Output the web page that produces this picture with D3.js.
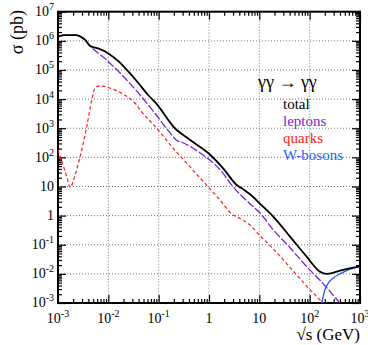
<!DOCTYPE html>
<html>
<head>
<meta charset="utf-8">
<script src="https://cdnjs.cloudflare.com/ajax/libs/d3/7.8.5/d3.min.js"></script>
<style>
body { margin: 0; background: #fff; }
svg text { font-family: "Liberation Serif", "Times New Roman", Times, "DejaVu Serif", serif; }
</style>
</head>
<body>
<div id="chart"></div>
<script>
// sqrt(s) in GeV, sigma in pb
let totalE = [0.001, 0.00138, 0.00219, 0.00347, 0.00437, 0.00631, 0.01, 0.0158, 0.0251, 0.0398, 0.0617, 0.0891,
  0.209, 0.417, 0.977, 1.91, 3.55, 5.01, 7.08, 10.2, 19.1, 40.7, 87.1, 162, 219, 282, 398, 933, 1000];
let totalSigma = [1.4e6, 1.58e6, 1.58e6, 1.07e6, 6.6e5, 5.5e5, 3.7e5, 2.0e5, 8.7e4, 3.5e4, 1.38e4, 7.1e3,
  1000, 400, 138, 42, 11.2, 7.6, 4.8, 2.6, 0.91, 0.19, 0.039, 0.0117, 0.0100, 0.0107, 0.0129, 0.0178, 0.0182];

let leptonE = [0.001, 0.00138, 0.00219, 0.00347, 0.00437, 0.0085, 0.0186, 0.0398, 0.0851, 0.195, 0.229, 0.288,
  0.617, 1.91, 2.63, 3.55, 6.46, 10.2, 19.1, 40.7, 87.1, 200, 398, 631];
let leptonSigma = [1.4e6, 1.58e6, 1.58e6, 1.07e6, 6.6e5, 2.5e5, 6.8e4, 1.6e4, 3.2e3, 510, 380, 330,
  155, 28, 13, 7.1, 2.6, 1.25, 0.32, 0.079, 0.0178, 0.004, 0.001, 0.0004];

let quarkE = [0.001, 0.00129, 0.00151, 0.00174, 0.00219, 0.00275, 0.00372, 0.00468, 0.0055, 0.0063, 0.0085, 0.01,
  0.0186, 0.0339, 0.0457, 0.0912, 0.195, 0.417, 0.891, 1.55, 3.02, 3.55, 6.46, 10.2, 19.1, 40.7, 87.1, 174, 200];
let quarkSigma = [180, 48, 20, 9.3, 25, 105, 1120, 9300, 2.5e4, 2.8e4, 2.75e4, 2.5e4,
  1.58e4, 7.2e3, 3.7e3, 1000, 204, 48, 11.2, 3.9, 1.05, 0.91, 0.48, 0.21, 0.071, 0.0166, 0.0038, 0.0011, 0.00085];

let wE = [174, 200, 234, 295, 398, 603, 933, 1000];
let wSigma = [0.001, 0.0028, 0.0048, 0.0072, 0.0100, 0.0141, 0.0174, 0.0178];

let xTickExp = [-3, -2, -1, 0, 1, 2, 3];
let yTickExp = [7, 6, 5, 4, 3, 2, 1, 0, -1, -2, -3];

let legendTitle = "\u03b3\u03b3 \u2192 \u03b3\u03b3";
let legendNames = ["total", "leptons", "quarks", "W-bosons"];
let legendColors = ["#000000", "#7b22d8", "#ff1a1a", "#1f5cff"];

let width = 368, height = 345;
let margin = {top: 11.7, left: 58, right: 8, bottom: 42};
let innerW = width - margin.left - margin.right;
let innerH = height - margin.top - margin.bottom;
let serif = "'Liberation Serif', 'Times New Roman', Times, 'DejaVu Serif', serif";

let xScale = d3.scaleLog().domain([1e-3, 1e3]).range([0, innerW]);
let yScale = d3.scaleLog().domain([1e-3, 1e7]).range([innerH, 0]);

let svg = d3.select("#chart").append("svg")
  .attr("width", width)
  .attr("height", height)
  .attr("font-family", serif);

svg.append("defs").append("clipPath").attr("id", "clip")
  .append("rect").attr("width", innerW).attr("height", innerH);

let g = svg.append("g").attr("transform", "translate(" + margin.left + "," + margin.top + ")");

// grid lines, dotted, at every decade
g.append("g").selectAll("line").data(xTickExp.slice(1, -1)).join("line")
  .attr("x1", d => xScale(Math.pow(10, d))).attr("x2", d => xScale(Math.pow(10, d)))
  .attr("y1", 0).attr("y2", innerH)
  .attr("stroke", "#777").attr("stroke-width", 1).attr("stroke-dasharray", "1,2");
g.append("g").selectAll("line").data(yTickExp.slice(1, -1)).join("line")
  .attr("y1", d => yScale(Math.pow(10, d))).attr("y2", d => yScale(Math.pow(10, d)))
  .attr("x1", 0).attr("x2", innerW)
  .attr("stroke", "#777").attr("stroke-width", 1).attr("stroke-dasharray", "1,2");

// minor tick values, 2..9 in every decade
let minorX = [], minorY = [];
xTickExp.slice(0, -1).forEach(e => { for (let k = 2; k < 10; k++) minorX.push(k * Math.pow(10, e)); });
yTickExp.slice(1).forEach(e => { for (let k = 2; k < 10; k++) minorY.push(k * Math.pow(10, e)); });
let majorX = xTickExp.map(e => Math.pow(10, e));
let majorY = yTickExp.map(e => Math.pow(10, e));

let tickAxis = function(gen, scale, vals, size, transform) {
  let a = g.append("g").attr("transform", transform)
    .call(gen(scale).tickValues(vals).tickSize(size).tickFormat(""));
  a.select(".domain").remove();
  a.selectAll("line").attr("stroke", "#000").attr("stroke-width", 1.2);
};
tickAxis(d3.axisBottom, xScale, majorX, -8, "translate(0," + innerH + ")");
tickAxis(d3.axisBottom, xScale, minorX, -4, "translate(0," + innerH + ")");
tickAxis(d3.axisTop, xScale, majorX, -8, "translate(0,0)");
tickAxis(d3.axisTop, xScale, minorX, -4, "translate(0,0)");
tickAxis(d3.axisLeft, yScale, majorY, -8, "translate(0,0)");
tickAxis(d3.axisLeft, yScale, minorY, -4, "translate(0,0)");
tickAxis(d3.axisRight, yScale, majorY, -8, "translate(" + innerW + ",0)");
tickAxis(d3.axisRight, yScale, minorY, -4, "translate(" + innerW + ",0)");

// frame
g.append("rect").attr("width", innerW).attr("height", innerH)
  .attr("fill", "none").attr("stroke", "#000").attr("stroke-width", 2);

// tick labels, 10^n with a superscript
let powLabel = function(sel) {
  sel.each(function(e) {
    let t = d3.select(this);
    if (e === 0) { t.text("1"); return; }
    t.append("tspan").text("10");
    if (e !== 1) {
      t.append("tspan").attr("font-size", 10).attr("dy", -6).text(e);
    }
  });
};

g.append("g").selectAll("text").data(xTickExp).join("text")
  .attr("x", d => xScale(Math.pow(10, d)))
  .attr("y", innerH + 20)
  .attr("text-anchor", "middle")
  .attr("font-family", serif)
  .attr("font-size", 14)
  .call(powLabel);

g.append("g").selectAll("text").data(yTickExp).join("text")
  .attr("x", -4)
  .attr("y", d => yScale(Math.pow(10, d)) + 4.5)
  .attr("text-anchor", "end")
  .attr("font-family", serif)
  .attr("font-size", 14)
  .call(powLabel);

// axis titles
svg.append("text")
  .attr("x", margin.left + innerW)
  .attr("y", 340)
  .attr("text-anchor", "end")
  .attr("font-family", serif)
  .attr("font-size", 17)
  .text("\u221As (GeV)");

svg.append("text")
  .attr("transform", "translate(23,10) rotate(-90)")
  .attr("text-anchor", "end")
  .attr("font-family", serif)
  .attr("font-size", 18)
  .text("\u03c3 (pb)");

// curves
let line = d3.line()
  .x(d => xScale(d[0]))
  .y(d => yScale(d[1]))
  .curve(d3.curveMonotoneX);

let series = [
  {e: quarkE, s: quarkSigma, color: legendColors[2], dash: "3.5,2.5", w: 1.2},
  {e: leptonE, s: leptonSigma, color: legendColors[1], dash: "8,2", w: 1.3},
  {e: wE, s: wSigma, color: legendColors[3], dash: null, w: 1.3},
  {e: totalE, s: totalSigma, color: legendColors[0], dash: null, w: 1.8}
];

let plot = g.append("g").attr("clip-path", "url(#clip)");
series.forEach(function(sr) {
  plot.append("path")
    .datum(sr.e.map((v, i) => [v, sr.s[i]]))
    .attr("fill", "none")
    .attr("stroke", sr.color)
    .attr("stroke-width", sr.w)
    .attr("stroke-dasharray", sr.dash)
    .attr("d", line);
});

// legend
svg.append("text")
  .attr("x", 258).attr("y", 88)
  .attr("font-family", serif)
  .attr("font-size", 18)
  .text(legendTitle);

svg.append("g").selectAll("text").data(legendNames).join("text")
  .attr("x", 283)
  .attr("y", (d, i) => 109 + i * 17)
  .attr("font-family", serif)
  .attr("font-size", 15)
  .attr("fill", (d, i) => legendColors[i])
  .text(d => d);
</script>
</body>
</html>
